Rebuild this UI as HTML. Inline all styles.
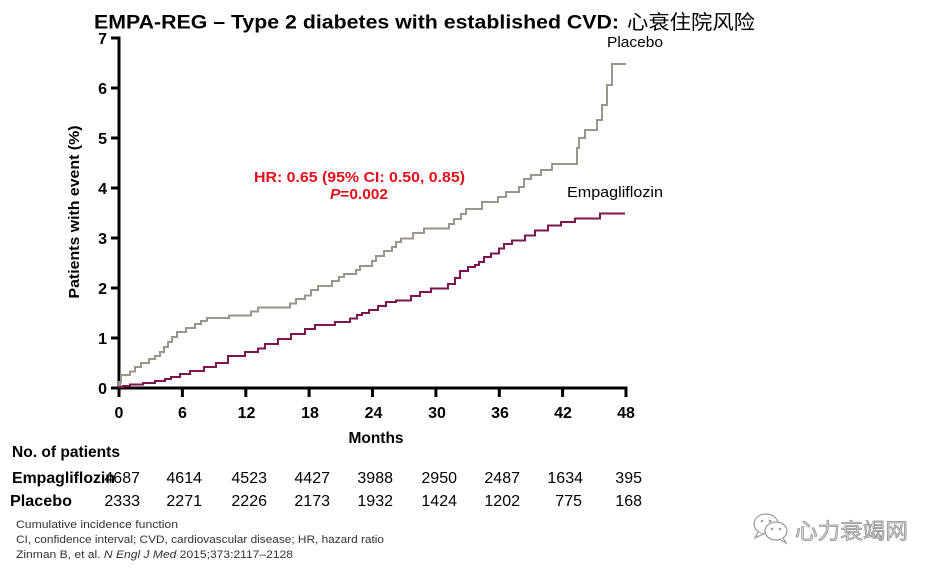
<!DOCTYPE html>
<html>
<head>
<meta charset="utf-8">
<style>
html,body{margin:0;padding:0;background:#fff;}
svg{display:block;}
text{font-family:"Liberation Sans","Noto Sans CJK SC",sans-serif;}
</style>
</head>
<body>
<svg width="940" height="570" viewBox="0 0 940 570" xmlns="http://www.w3.org/2000/svg">
<rect width="940" height="570" fill="#fff"/>

<!-- Title -->
<text x="94" y="28.5" font-size="19" font-weight="bold" fill="#000" textLength="525" lengthAdjust="spacingAndGlyphs">EMPA-REG – Type 2 diabetes with established CVD:</text>
<text x="627" y="29" font-size="20" fill="#000" textLength="128" lengthAdjust="spacingAndGlyphs" style='font-family:"Noto Sans CJK SC",sans-serif'>心衰住院风险</text>

<!-- Y axis label -->
<text transform="translate(79,212) rotate(-90)" text-anchor="middle" font-size="15" font-weight="bold" fill="#000" textLength="173" lengthAdjust="spacingAndGlyphs">Patients with event (%)</text>

<!-- Axes -->
<g stroke="#000" stroke-width="3" fill="none">
  <line x1="119" y1="36.5" x2="119" y2="389.5"/>
  <line x1="117.5" y1="388" x2="627.5" y2="388"/>
  <!-- y ticks -->
  <line x1="111" y1="38" x2="119" y2="38"/>
  <line x1="111" y1="88" x2="119" y2="88"/>
  <line x1="111" y1="138" x2="119" y2="138"/>
  <line x1="111" y1="188" x2="119" y2="188"/>
  <line x1="111" y1="238" x2="119" y2="238"/>
  <line x1="111" y1="288" x2="119" y2="288"/>
  <line x1="111" y1="338" x2="119" y2="338"/>
  <line x1="111" y1="388" x2="119" y2="388"/>
  <!-- x ticks -->
  <line x1="119" y1="388" x2="119" y2="397"/>
  <line x1="182.4" y1="388" x2="182.4" y2="397"/>
  <line x1="245.8" y1="388" x2="245.8" y2="397"/>
  <line x1="309.1" y1="388" x2="309.1" y2="397"/>
  <line x1="372.5" y1="388" x2="372.5" y2="397"/>
  <line x1="435.9" y1="388" x2="435.9" y2="397"/>
  <line x1="499.3" y1="388" x2="499.3" y2="397"/>
  <line x1="562.6" y1="388" x2="562.6" y2="397"/>
  <line x1="626" y1="388" x2="626" y2="397"/>
</g>

<!-- Y tick labels -->
<g font-size="16" font-weight="bold" fill="#000" text-anchor="end">
  <text x="107" y="44">7</text>
  <text x="107" y="94">6</text>
  <text x="107" y="144">5</text>
  <text x="107" y="194">4</text>
  <text x="107" y="244">3</text>
  <text x="107" y="294">2</text>
  <text x="107" y="344">1</text>
  <text x="107" y="394">0</text>
</g>

<!-- X tick labels -->
<g font-size="16" font-weight="bold" fill="#000" text-anchor="middle">
  <text x="119" y="418">0</text>
  <text x="182.4" y="418">6</text>
  <text x="246.5" y="418">12</text>
  <text x="310" y="418">18</text>
  <text x="373.5" y="418">24</text>
  <text x="437" y="418">30</text>
  <text x="500" y="418">36</text>
  <text x="563" y="418">42</text>
  <text x="626" y="418">48</text>
</g>
<text x="376" y="443" font-size="15.5" font-weight="bold" fill="#000" text-anchor="middle">Months</text>

<!-- Placebo curve -->
<path fill="none" stroke="#9b968b" stroke-width="2" d="M119,388 V382 H121 V375 H130 V371.5 H135 V367 H141 V363 H149 V359 H155 V356 H160 V352 H164 V347 H168 V342 H172 V337 H177 V332 H186 V328 H195 V324 H201 V321 H207 V318 H229 V315.5 H251 V311.5 H258 V307.5 H290 V303.5 H296 V299 H305 V295.5 H311 V290 H318 V286 H332 V281 H339 V277 H344 V274 H356 V270 H360 V266 H372 V261 H376 V256 H384 V251 H392 V247 H396 V242 H401 V238.5 H413 V233 H424 V228.5 H449 V224 H454 V219 H461 V214 H466 V209 H482 V202 H498 V197 H506 V192 H519 V187 H524 V179 H531 V175 H541 V170 H552 V164 H577 V148 H579 V138 H585 V130 H597 V120 H602 V105 H607 V85 H612 V64 H626"/>

<!-- Empagliflozin curve -->
<path fill="none" stroke="#7d1650" stroke-width="2" d="M119,388 V387 H123 V386 H130 V384.5 H143 V383 H155 V381 H165 V379 H171 V377 H180 V374 H190 V371 H204 V367 H216 V363 H228 V356 H245 V352 H258 V348.5 H265 V344 H278 V339 H291 V334 H305 V329 H315 V325 H335 V322 H350 V318.5 H357 V315 H362 V313 H369 V310 H378 V306 H386 V302 H396 V300.5 H411 V296 H420 V292 H431 V288.5 H448 V284 H455 V278 H460 V271 H468 V267 H475 V265 H479 V262 H484 V257 H491 V253.5 H499 V248.5 H504 V244 H512 V240.5 H525 V235.5 H535 V230.5 H548 V225.5 H561 V222 H575 V218.5 H600 V213.5 H625"/>

<!-- Series labels -->
<text x="607" y="47" font-size="15" fill="#000" textLength="56" lengthAdjust="spacingAndGlyphs">Placebo</text>
<text x="567" y="197" font-size="15" fill="#000" textLength="96" lengthAdjust="spacingAndGlyphs">Empagliflozin</text>

<!-- HR annotation -->
<text x="254" y="182" font-size="15" font-weight="bold" fill="#e3101c" textLength="211" lengthAdjust="spacingAndGlyphs">HR: 0.65 (95% CI: 0.50, 0.85)</text>
<text x="330" y="199" font-size="15" font-weight="bold" fill="#e3101c" textLength="58" lengthAdjust="spacingAndGlyphs"><tspan font-style="italic">P</tspan>=0.002</text>

<!-- Number at risk table -->
<text x="12" y="457" font-size="16" font-weight="bold" fill="#000" textLength="108" lengthAdjust="spacingAndGlyphs">No. of patients</text>
<text x="12" y="483" font-size="16" font-weight="bold" fill="#000" textLength="103" lengthAdjust="spacingAndGlyphs">Empagliflozin</text>
<text x="10" y="506" font-size="16" font-weight="bold" fill="#000" textLength="62" lengthAdjust="spacingAndGlyphs">Placebo</text>

<g font-size="16" fill="#000" text-anchor="end">
  <text x="140" y="483">4687</text>
  <text x="202" y="483">4614</text>
  <text x="267" y="483">4523</text>
  <text x="330" y="483">4427</text>
  <text x="393" y="483">3988</text>
  <text x="457" y="483">2950</text>
  <text x="520" y="483">2487</text>
  <text x="583" y="483">1634</text>
  <text x="642" y="483">395</text>

  <text x="140" y="506">2333</text>
  <text x="202" y="506">2271</text>
  <text x="267" y="506">2226</text>
  <text x="330" y="506">2173</text>
  <text x="393" y="506">1932</text>
  <text x="457" y="506">1424</text>
  <text x="520" y="506">1202</text>
  <text x="582" y="506">775</text>
  <text x="642" y="506">168</text>
</g>

<!-- Footnotes -->
<g font-size="11" fill="#333">
  <text x="16" y="528" textLength="162" lengthAdjust="spacingAndGlyphs">Cumulative incidence function</text>
  <text x="16" y="543" textLength="368" lengthAdjust="spacingAndGlyphs">CI, confidence interval; CVD, cardiovascular disease; HR, hazard ratio</text>
  <text x="16" y="558" textLength="277" lengthAdjust="spacingAndGlyphs">Zinman B, et al. <tspan font-style="italic">N Engl J Med</tspan> 2015;373:2117–2128</text>
</g>

<!-- Watermark -->
<g fill="#fff" stroke="#999" stroke-width="1.2">
  <ellipse cx="766" cy="524" rx="12" ry="10"/>
  <path d="M758,532 L755,538 L763,534" />
  <ellipse cx="776" cy="531" rx="11" ry="9"/>
  <path d="M783,538 L786,543 L779,539"/>
</g>
<g fill="#999">
  <circle cx="762" cy="521" r="1.3"/>
  <circle cx="770" cy="521" r="1.3"/>
  <circle cx="772" cy="529" r="1.2"/>
  <circle cx="780" cy="529" r="1.2"/>
</g>
<text x="795" y="539" font-size="22" fill="#d8d8d8" stroke="#8e8e8e" stroke-width="0.7" textLength="113" lengthAdjust="spacingAndGlyphs" style='font-family:"Noto Sans CJK SC",sans-serif'>心力衰竭网</text>
</svg>
</body>
</html>
